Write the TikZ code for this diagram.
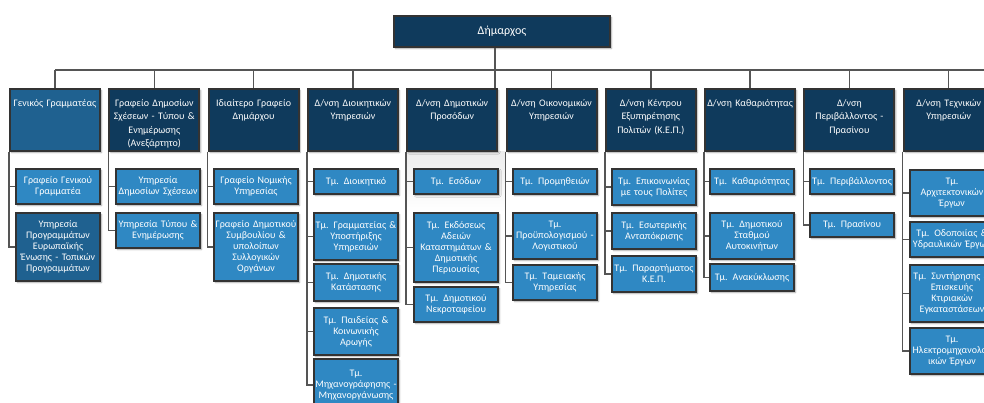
\documentclass[tikz,border=0pt]{standalone}
\usepackage{fontspec}
\setmainfont{Carlito}
\usepackage{xcolor}
\usepackage{tikz}
\usetikzlibrary{shadows.blur,backgrounds}

\definecolor{navy}{HTML}{0F3A5C}
\definecolor{midblue}{HTML}{1F6190}
\definecolor{lightblue}{HTML}{2F88C3}
\definecolor{boxline}{HTML}{333333}
\definecolor{linkgray}{HTML}{555555}

\tikzset{
  box/.style={draw=boxline, line width=2pt, text=white, inner sep=2pt,
    blur shadow={shadow xshift=1.5pt, shadow yshift=-1.5pt, shadow blur radius=1.5pt, shadow opacity=35}},
  headbox/.style={box, fill=navy, anchor=north west, inner xsep=1pt, text width=88pt, align=center,
    font=\fontsize{10}{13.3}\selectfont, text height=15.5pt, text depth=42.5pt},
  unitbox/.style={box, fill=lightblue, anchor=north west, inner xsep=0pt, text width=84pt, align=center,
    font=\fontsize{10}{11}\selectfont},
  link/.style={draw=linkgray, line width=1.5pt},
}

\begin{document}
\begin{tikzpicture}[x=1pt, y=-1pt]
        \useasboundingbox (0,0) rectangle (984,403);
        \clip (0,0) rectangle (984,403);

        % Mayor
        \node[box, fill=navy, minimum width=216pt, minimum height=31pt, font=\fontsize{12}{14}\selectfont] (mayor) at (502,31.5) {Δήμαρχος};

        % Offices and directorates
        \node[headbox, fill=midblue] (d0) at (9,88) {Γενικός Γραμματέας};
        \node[headbox] (d1) at (108.3,88) {Γραφείο Δημοσίων\\Σχέσεων - Τύπου \&\\Ενημέρωσης\\(Ανεξάρτητο)};
        \node[headbox] (d2) at (207.6,88) {Ιδιαίτερο Γραφείο\\Δημάρχου};
        \node[headbox] (d3) at (306.9,88) {Δ/νση Διοικητικών\\Υπηρεσιών};
        \node[headbox] (d4) at (406.2,88) {Δ/νση Δημοτικών\\Προσόδων};
        \node[headbox] (d5) at (505.5,88) {Δ/νση Οικονομικών\\Υπηρεσιών};
        \node[headbox] (d6) at (604.8,88) {Δ/νση Κέντρου\\Εξυπηρέτησης\\Πολιτών (Κ.Ε.Π.)};
        \node[headbox] (d7) at (704.1,88) {Δ/νση Καθαριότητας};
        \node[headbox] (d8) at (803.4,88) {Δ/νση\\Περιβάλλοντος -\\Πρασίνου};
        \node[headbox] (d9) at (902.7,88) {Δ/νση Τεχνικών\\Υπηρεσιών};

        % Departments
        \node[unitbox, minimum height=35pt] (d0a) at (15,168) {Γραφείο Γενικού\\Γραμματέα};
        \node[unitbox, fill=midblue, minimum height=68pt] (d0b) at (15,212) {Υπηρεσία\\Προγραμμάτων\\Ευρωπαϊκής\\Ένωσης - Τοπικών\\Προγραμμάτων};

        \node[unitbox, minimum height=35pt] (d1a) at (115,168) {Υπηρεσία\\Δημοσίων Σχέσεων};
        \node[unitbox, minimum height=35pt] (d1b) at (115,212) {Υπηρεσία Τύπου \&\\Ενημέρωσης};

        \node[unitbox, minimum height=35pt] (d2a) at (213,168) {Γραφείο Νομικής\\Υπηρεσίας};
        \node[unitbox, minimum height=68pt] (d2b) at (213,212) {Γραφείο Δημοτικού\\Συμβουλίου \&\\υπολοίπων\\Συλλογικών\\Οργάνων};

        \node[unitbox, minimum height=25pt] (d3a) at (313,168) {Τμ. Διοικητικό};
        \node[unitbox, minimum height=47pt] (d3b) at (313,212) {Τμ. Γραμματείας \&\\Υποστήριξης\\Υπηρεσιών};
        \node[unitbox, minimum height=37pt] (d3c) at (313,263) {Τμ. Δημοτικής\\Κατάστασης};
        \node[unitbox, minimum height=47pt] (d3d) at (313,307) {Τμ. Παιδείας \&\\Κοινωνικής\\Αρωγής};
        \node[unitbox, minimum height=52pt] (d3e) at (313,358) {Τμ.\\Μηχανογράφησης -\\Μηχανοργάνωσης};

        \node[unitbox, minimum height=25pt] (d4a) at (413,168) {Τμ. Εσόδων};
        \node[unitbox, minimum height=69pt] (d4b) at (413,212) {Τμ. Εκδόσεως\\Αδειών\\Καταστημάτων \&\\Δημοτικής\\Περιουσίας};
        \node[unitbox, minimum height=35pt] (d4c) at (413,286) {Τμ. Δημοτικού\\Νεκροταφείου};

        \node[unitbox, minimum height=25pt] (d5a) at (512,168) {Τμ. Προμηθειών};
        \node[unitbox, minimum height=46pt] (d5b) at (512,212) {Τμ.\\Προϋπολογισμού -\\Λογιστικού};
        \node[unitbox, minimum height=35pt] (d5c) at (512,264) {Τμ. Ταμειακής\\Υπηρεσίας};

        \node[unitbox, minimum height=36pt] (d6a) at (611,168) {Τμ. Επικοινωνίας\\με τους Πολίτες};
        \node[unitbox, minimum height=36pt] (d6b) at (611,212) {Τμ. Εσωτερικής\\Ανταπόκρισης};
        \node[unitbox, minimum height=36pt] (d6c) at (611,255) {Τμ. Παραρτήματος\\Κ.Ε.Π.};

        \node[unitbox, minimum height=25pt] (d7a) at (709,168) {Τμ. Καθαριότητας};
        \node[unitbox, minimum height=46pt] (d7b) at (709,212) {Τμ. Δημοτικού\\Σταθμού\\Αυτοκινήτων};
        \node[unitbox, minimum height=27pt] (d7c) at (709,263) {Τμ. Ανακύκλωσης};

        \node[unitbox, minimum height=25pt] (d8a) at (809,168) {Τμ. Περιβάλλοντος};
        \node[unitbox, minimum height=24pt] (d8b) at (809,212) {Τμ. Πρασίνου};

        \node[unitbox, minimum height=46pt] (d9a) at (909,169) {Τμ.\\Αρχιτεκτονικών\\Έργων};
        \node[unitbox, minimum height=35pt] (d9b) at (909,221) {Τμ. Οδοποιίας \&\\Υδραυλικών Έργων};
        \node[unitbox, minimum height=57pt] (d9c) at (909,264) {Τμ. Συντήρησης \&\\Επισκευής\\Κτιριακών\\Εγκαταστάσεων};
        \node[unitbox, minimum height=46pt] (d9d) at (909,327) {Τμ.\\Ηλεκτρομηχανολογ\\ικών Έργων};

        % Lines from the mayor
        \coordinate (bus) at (984,70);
        \coordinate (drop) at ([xshift=-3pt]d4.north east);
        \draw[link] (mayor.south -| drop) -- (drop);
        \draw[link] (d0.north |- bus) -- (bus);
        \foreach \d in {d0,d1,d2,d3,d5,d6,d7,d8,d9} {
            \draw[link] (\d.north) -- (\d.north |- bus);
        }

        % Lines to the departments
        \foreach \d/\cs in {d0/{a,b}, d1/{a,b}, d2/{a,b}, d3/{a,b,c,d,e}, d4/{a,b,c},
                            d5/{a,b,c}, d6/{a,b,c}, d7/{a,b,c}, d8/{a,b}, d9/{a,b,c,d}} {
            \foreach \c in \cs {
                \draw[link] (\d.south west) |- (\d\c.west);
            }
        }

        % Grey band
        \begin{scope}[on background layer]
            \shade[top color=gray!14, bottom color=white] (d4.south west) rectangle (d5.south west |- d4b.north);
        \end{scope}
    \end{tikzpicture}
\end{document}
